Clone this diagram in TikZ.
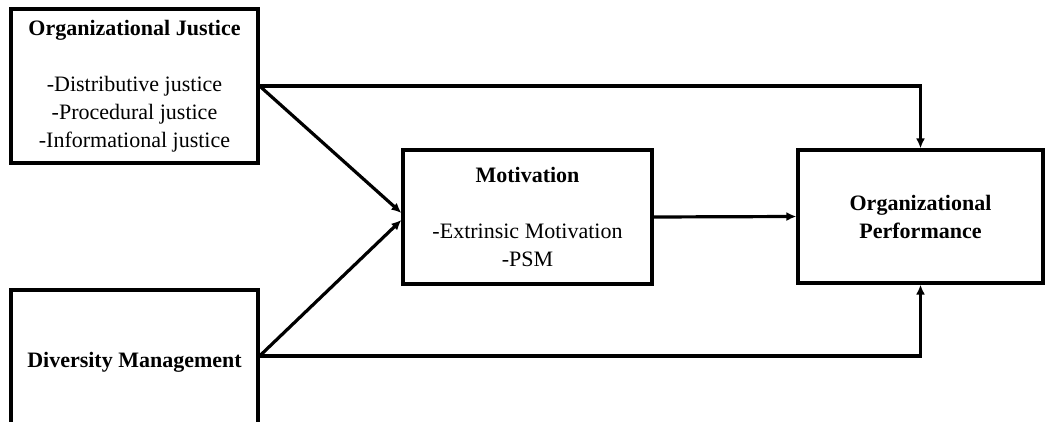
\documentclass[tikz,border=0pt]{standalone}
\usepackage{fontspec}
\setmainfont{Liberation Serif}
\usepackage{tikz}
\usetikzlibrary{arrows.meta}

\tikzset{
  box/.style={draw, line width=1.6pt, align=center, inner sep=2pt,
    font=\fontsize{11}{14}\selectfont},
  link/.style={line width=1.6pt, -{Latex[length=5pt,width=4.5pt]}}
}

\begin{document}
\begin{tikzpicture}[x=0.5pt, y=-0.5pt]
    \useasboundingbox (0, 0) rectangle (1045, 422);
    \node[box, minimum width=123.5pt, minimum height=77pt] (oj) at (134.5, 86)
      {\textbf{Organizational Justice}\\[14pt]-Distributive justice\\-Procedural justice\\-Informational justice};
    \node[box, minimum width=123.5pt, minimum height=72pt] (dm) at (134.5, 362)
      {\textbf{Diversity Management}};
    \node[box, minimum width=124.5pt, minimum height=67pt] (mot) at (527.5, 217)
      {\textbf{Motivation}\\[14pt]-Extrinsic Motivation\\-PSM};
    \node[box, minimum width=122.5pt, minimum height=66.5pt] (op) at (920.5, 216.5)
      {\textbf{Organizational}\\\textbf{Performance}};
    \coordinate (djs) at ([yshift=3pt]dm.east);
    \draw[link] (oj.east) -| (op.north);
    \draw[link] (oj.east) -- ([yshift=2pt]mot.west);
    \draw[link] (djs) -- ([yshift=-1.5pt]mot.west);
    \draw[link] (djs) -| (op.south);
    \draw[link] (mot.east) -- (op.west);
  \end{tikzpicture}
\end{document}
